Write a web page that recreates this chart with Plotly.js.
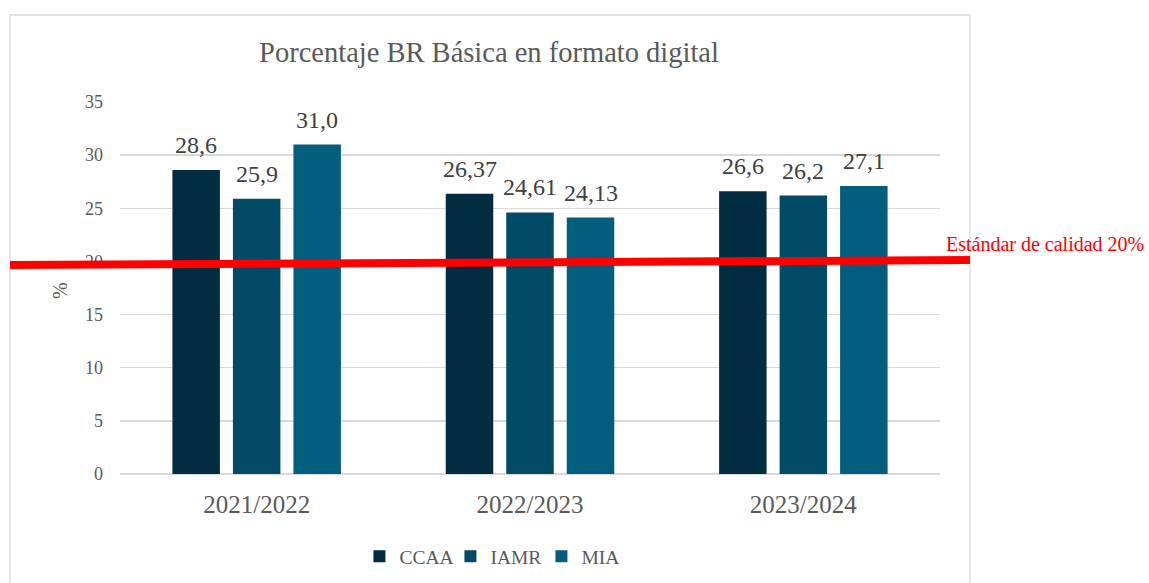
<!DOCTYPE html>
<html>
<head>
<meta charset="utf-8">
<script src="https://cdn.plot.ly/plotly-3.0.1.min.js"></script>
<style>
  html, body { margin: 0; padding: 0; background: #ffffff; }
  #chart { width: 1149px; height: 583px; }
</style>
</head>
<body>
<div id="chart"></div>
<script>
const categories = ["2021/2022", "2022/2023", "2023/2024"];
const seriesNames = ["CCAA", "IAMR", "MIA"];
const ccaa = [28.6, 26.37, 26.6];
const iamr = [25.9, 24.61, 26.2];
const mia  = [31.0, 24.13, 27.1];
const labelDecimals = [1, 2, 1];
const standardValue = 20;
const standardLabel = "Estándar de calidad 20%";
const titleText = "Porcentaje BR Básica en formato digital";
const yTitle = "%";

const colors = ["#022c42", "#024b67", "#035d7c"];
const FONT = "Liberation Serif";
const allSeries = [ccaa, iamr, mia];

const traces = allSeries.map((vals, i) => ({
  type: "bar",
  name: seriesNames[i],
  x: categories,
  y: vals,
  marker: { color: colors[i], line: { width: 0 } },
  hoverinfo: "skip"
}));

function fmt(v, d) { return v.toFixed(d).replace(".", ","); }

const slot = 60.5;
const annotations = [];
allSeries.forEach((vals, i) => {
  vals.forEach((v, j) => {
    annotations.push({
      x: categories[j], y: v, xref: "x", yref: "y",
      xshift: (i - 1) * slot, yshift: 10,
      yanchor: "bottom", xanchor: "center",
      text: fmt(v, labelDecimals[j]), showarrow: false,
      font: { family: FONT, size: 24, color: "#404040" }
    });
  });
});
annotations.push({
  xref: "paper", yref: "paper", x: 1.0049, y: 0.618,
  xanchor: "left", yanchor: "middle", showarrow: false,
  text: standardLabel, font: { family: FONT, size: 20, color: "#ff0000" }
});
annotations.push({
  xref: "paper", yref: "paper", x: -0.0732, y: 0.4946,
  xanchor: "center", yanchor: "middle", showarrow: false, textangle: -90,
  text: yTitle, font: { family: FONT, size: 20, color: "#595959" }
});

const layout = {
  width: 1149, height: 583,
  margin: { l: 120, r: 209, t: 102, b: 109, autoexpand: false },
  paper_bgcolor: "#ffffff", plot_bgcolor: "#ffffff",
  font: { family: FONT, color: "#595959" },
  title: {
    text: titleText, x: 0.45, xanchor: "center", xref: "paper",
    y: 0.91, yanchor: "middle", automargin: false,
    font: { family: FONT, size: 28.5, color: "#595959" }
  },
  barmode: "group", bargap: 0.336, bargroupgap: 0.215,
  showlegend: true,
  legend: {
    orientation: "h", x: 0.292, xanchor: "left", y: -0.222, yanchor: "middle",
    font: { family: FONT, size: 19.5, color: "#595959" },
    itemwidth: 30, entrywidth: 46, entrywidthmode: "pixels",
    itemclick: false, itemdoubleclick: false
  },
  xaxis: {
    type: "category", showgrid: false, showline: false, ticks: "", automargin: false,
    ticklabelstandoff: 13,
    tickfont: { family: FONT, size: 25, color: "#595959" }
  },
  yaxis: {
    range: [0, 35], dtick: 5, tick0: 0, showline: false, ticks: "", automargin: false,
    gridcolor: "#d9d9d9", gridwidth: 1.3, zeroline: true, zerolinecolor: "#d9d9d9", zerolinewidth: 1.3,
    ticklabelstandoff: 16,
    tickfont: { family: FONT, size: 18, color: "#595959" }
  },
  shapes: [
    { type: "rect", xref: "paper", yref: "paper", x0: -0.1341, x1: 1.0366, y0: -0.45, y1: 1.2339,
      line: { color: "#d9d9d9", width: 1.3 }, fillcolor: "rgba(0,0,0,0)", layer: "below" },
    { type: "line", xref: "paper", yref: "y", x0: -0.1341, x1: 1.0366,
      y0: standardValue - 0.34, y1: standardValue + 0.13,
      line: { color: "#ff0000", width: 8 }, layer: "above" }
  ],
  annotations: annotations
};

Plotly.newPlot("chart", traces, layout, { displayModeBar: false, staticPlot: true });
</script>
</body>
</html>
